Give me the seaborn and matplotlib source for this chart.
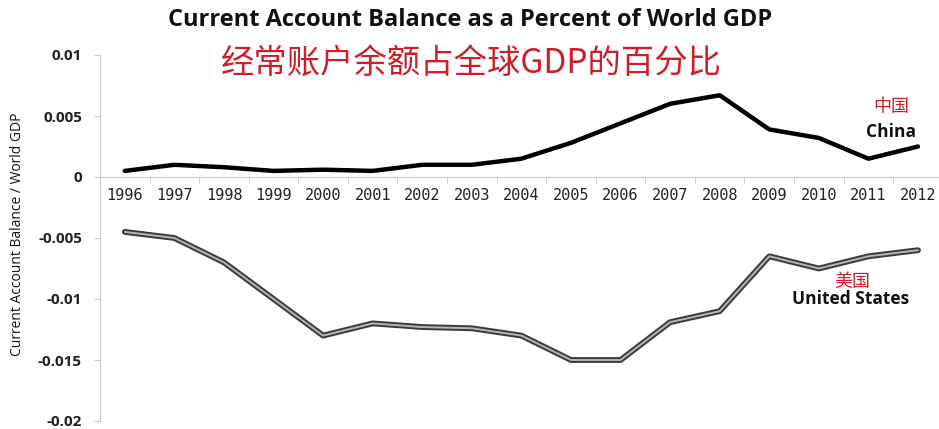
import matplotlib
matplotlib.use("Agg")
import matplotlib.pyplot as plt
import seaborn as sns
import pandas as pd
import numpy as np

years = [str(y) for y in range(1996, 2013)]
china = [0.0005, 0.0010, 0.0008, 0.0005, 0.0006, 0.0005, 0.0010, 0.0010, 0.0015,
         0.0028, 0.0044, 0.0060, 0.0067, 0.0039, 0.0032, 0.0015, 0.0025]
usa = [-0.0045, -0.0050, -0.0070, -0.0100, -0.0130, -0.0120, -0.0123, -0.0124, -0.0130,
       -0.0150, -0.0150, -0.0119, -0.0110, -0.0065, -0.0075, -0.0065, -0.0060]
ytick_vals = [0.01, 0.005, 0, -0.005, -0.01, -0.015, -0.02]
ytick_labels = ["0.01", "0.005", "0", "-0.005", "-0.01", "-0.015", "-0.02"]

sns.set_style("white")
plt.rcParams['font.family'] = ['Open Sans', 'Noto Sans CJK SC', 'DejaVu Sans']

df = pd.DataFrame({"x": np.arange(len(years)), "China": china, "US": usa})

fig = plt.figure(figsize=(9.39, 4.29), dpi=100)
ax = fig.add_axes([100/939, (429-421)/429, (939-100)/939, (421-55)/429])

sns.lineplot(data=df, x="x", y="China", ax=ax, color="black", linewidth=3.2)
sns.lineplot(data=df, x="x", y="US", ax=ax, color="#3a3a3a", linewidth=4.2)
sns.lineplot(data=df, x="x", y="US", ax=ax, color="#b5b5b5", linewidth=1.4)

ax.set_ylim(-0.02, 0.01)
ax.set_xlim(-0.5, 16 + (939 - 918) / 49.56)
ax.set_xlabel("")
ax.set_ylabel("")

ax.spines['top'].set_visible(False)
ax.spines['right'].set_visible(False)
ax.spines['left'].set_color("#c8c8c8")
ax.spines['bottom'].set_position(('data', 0))
ax.spines['bottom'].set_color("#c8c8c8")

ax.set_xticks(np.arange(len(years)))
ax.set_xticklabels(years, family="DejaVu Sans Mono", fontsize=11, color="#222222")
ax.set_xticks(np.arange(len(years) - 1) + 0.5, minor=True)
ax.tick_params(axis='x', which='major', length=0, pad=8)
ax.tick_params(axis='x', which='minor', length=5, color="#c8c8c8", direction='out', bottom=True)

ax.set_yticks(ytick_vals)
ax.set_yticklabels(ytick_labels, fontsize=11, fontweight="bold", color="#222222")
ax.tick_params(axis='y', length=4, color="#c8c8c8", left=True, pad=9)

fig.text(470/939, 1 - 20/429, "Current Account Balance as a Percent of World GDP",
         ha="center", va="center", fontsize=17, fontweight="bold", color="#111111")
fig.text(471/939, 1 - 63/429, "经常账户余额占全球GDP的百分比",
         ha="center", va="center", fontsize=24, color="#cc1f2a",
         family=["Noto Sans CJK SC", "DejaVu Sans"])
fig.text(18/939, 1 - 234/429, "Current Account Balance / World GDP",
         rotation=90, ha="center", va="center", fontsize=10, color="#111111")

ax.text(15.46, 0.0057, "中国", ha="center", va="center", fontsize=13, color="#cc1f2a",
        family=["Noto Sans CJK SC", "DejaVu Sans"])
ax.text(15.46, 0.0037, "China", ha="center", va="center", fontsize=12.5, fontweight="bold",
        color="#111111")
ax.text(14.68, -0.0086, "美国", ha="center", va="center", fontsize=13, color="#cc1f2a",
        family=["Noto Sans CJK SC", "DejaVu Sans"])
ax.text(14.63, -0.0100, "United States", ha="center", va="center", fontsize=12.5,
        fontweight="bold", color="#111111")

fig.savefig("out.png", dpi=100)
